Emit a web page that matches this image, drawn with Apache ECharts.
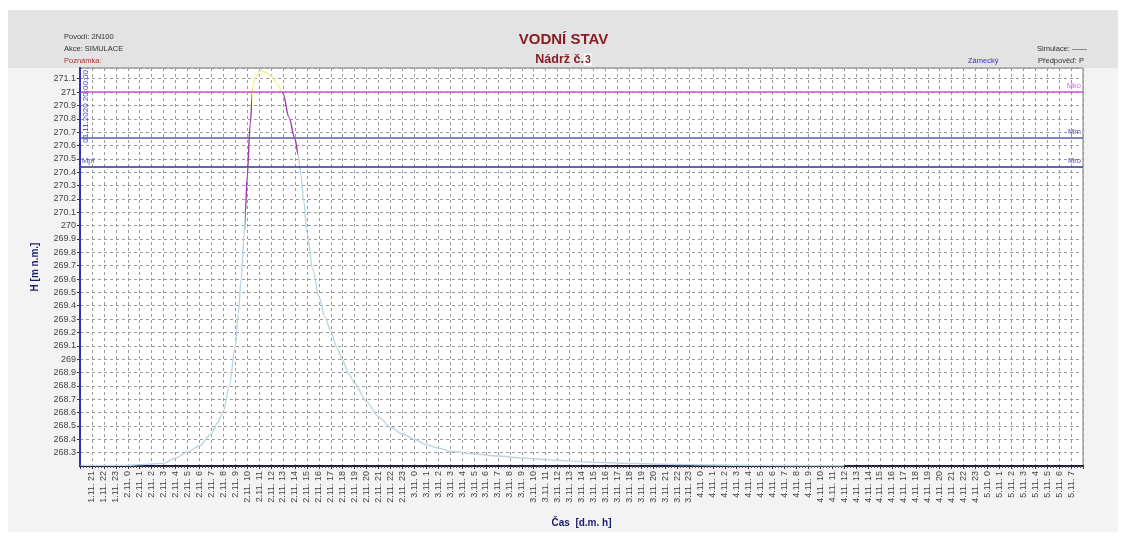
<!DOCTYPE html>
<html>
<head>
<meta charset="utf-8">
<script src="https://cdn.jsdelivr.net/npm/echarts@6/dist/echarts.min.js"></script>
<style>
html,body{margin:0;padding:0;background:#fff;}
#c{width:1127px;height:540px;}
</style>
</head>
<body>
<div id="c"></div>
<script>
// X tick labels (hourly, index 0 = 1.11. 21:00)
const xLabels = [
 '1.11. 21','1.11. 22','1.11. 23',
 '2.11. 0','2.11. 1','2.11. 2','2.11. 3','2.11. 4','2.11. 5','2.11. 6','2.11. 7','2.11. 8','2.11. 9','2.11. 10','2.11. 11',
 '2.11. 12','2.11. 13','2.11. 14','2.11. 15','2.11. 16','2.11. 17','2.11. 18','2.11. 19','2.11. 20','2.11. 21','2.11. 22','2.11. 23',
 '3.11. 0','3.11. 1','3.11. 2','3.11. 3','3.11. 4','3.11. 5','3.11. 6','3.11. 7','3.11. 8','3.11. 9','3.11. 10','3.11. 11',
 '3.11. 12','3.11. 13','3.11. 14','3.11. 15','3.11. 16','3.11. 17','3.11. 18','3.11. 19','3.11. 20','3.11. 21','3.11. 22','3.11. 23',
 '4.11. 0','4.11. 1','4.11. 2','4.11. 3','4.11. 4','4.11. 5','4.11. 6','4.11. 7','4.11. 8','4.11. 9','4.11. 10','4.11. 11',
 '4.11. 12','4.11. 13','4.11. 14','4.11. 15','4.11. 16','4.11. 17','4.11. 18','4.11. 19','4.11. 20','4.11. 21','4.11. 22','4.11. 23',
 '5.11. 0','5.11. 1','5.11. 2','5.11. 3','5.11. 4','5.11. 5','5.11. 6','5.11. 7'
];
// Time in hours from 1.11. 21:00
const times = [-1,0,1,2,3,4,5,6,7,8,9,10,10.5,11,11.5,12,12.25,12.5,12.75,12.85,13,13.25,13.5,13.75,14,14.25,14.5,15,15.5,16,16.5,17,17.28,17.5,17.75,18,18.5,19,19.5,20,20.5,21,21.5,22,23,24,25,26,27,28,29,30,32,34,36,38,40,42,45,48,52,56,60,63];
// Water level H [m n.m.]
const levels = [268.205,268.205,268.205,268.205,268.205,268.21,268.215,268.22,268.26,268.305,268.35,268.44,268.52,268.61,268.80,269.09,269.34,269.60,269.93,270.10,270.36,270.76,271.06,271.12,271.155,271.16,271.15,271.12,271.06,270.99,270.81,270.65,270.53,270.38,270.18,269.95,269.67,269.47,269.32,269.21,269.09,268.99,268.89,268.82,268.68,268.57,268.49,268.44,268.40,268.36,268.335,268.31,268.29,268.275,268.26,268.248,268.238,268.228,268.22,268.213,268.207,268.205,268.203,268.202];
// Reference levels
const levelMko = 271.0, levelMrn = 270.66, levelMro = 270.44, levelMs = 268.2;
const yMin = 268.2, yMax = 271.18;

const FONT = 'Liberation Sans, Arial, sans-serif';
const LB = '#bcd4e0', PURPLE = '#a03aa8', YELLOW = '#f2f08c';

const chart = echarts.init(document.getElementById('c'), null, {renderer:'canvas'});
const option = {
  animation: false,
  backgroundColor: '#ffffff',
  textStyle: {fontFamily: FONT},
  title: [
    {text: 'VODNÍ STAV', left: 'center', top: 27, textStyle: {fontSize: 15, fontWeight: 'bold', color: '#8b1c24', fontFamily: FONT}},
    {text: 'Nádrž č.{s|3}', left: 'center', top: 48, textStyle: {fontSize: 12.5, fontWeight: 'bold', color: '#8b1c24', fontFamily: FONT,
      rich: {s: {fontSize: 10.5, fontWeight: 'bold', color: '#8b1c24', backgroundColor: '#ffffff', fontFamily: FONT, padding: [1, 1, 0, 1]}}}}
  ],
  graphic: {elements: [
    {type:'rect', z:-100, shape:{x:8,y:10,width:1110,height:522}, style:{fill:'#f3f3f3'}},
    {type:'rect', z:-99, shape:{x:8,y:10,width:1110,height:58}, style:{fill:'#e3e3e3'}},
    {type:'text', left:64, top:32.5, z:50, style:{text:'Povodí: 2N100', fontSize:7.5, fontFamily:FONT, fill:'#333'}},
    {type:'text', left:64, top:44.5, z:50, style:{text:'Akce: SIMULACE', fontSize:7.5, fontFamily:FONT, fill:'#333'}},
    {type:'text', left:64, top:56.5, z:50, style:{text:'Poznámka:', fontSize:7.5, fontFamily:FONT, fill:'#b03030'}},
    {type:'text', left:1037, top:44.5, z:50, style:{text:'Simulace: ——', fontSize:7.5, fontFamily:FONT, fill:'#333'}},
    {type:'text', left:1038, top:56.5, z:50, style:{text:'Předpověď: P', fontSize:7.5, fontFamily:FONT, fill:'#333'}},
    {type:'text', left:968, top:56.5, z:50, style:{text:'Zámecký', fontSize:7.5, fontFamily:FONT, fill:'#3333bb'}}
  ]},
  grid: {left:80, right:44, top:68, bottom:74, show:true, backgroundColor:'#ffffff', borderColor:'#7a7a7a', borderWidth:1},
  xAxis: {
    type:'value', min:-1, max:83, interval:1,
    name:'Čas  [d.m. h]', nameLocation:'middle', nameGap:52,
    nameTextStyle:{fontWeight:'bold', fontSize:10, color:'#1a1a6a', fontFamily:FONT},
    axisLine:{show:true, onZero:false, lineStyle:{color:'#1c1c40', width:2}},
    axisTick:{show:true, length:3, lineStyle:{color:'#333'}},
    minorTick:{show:true, splitNumber:4, length:2, lineStyle:{color:'#555'}},
    axisLabel:{rotate:90, fontSize:9, color:'#444', margin:5, fontFamily:FONT,
      formatter: v => { const i = Math.round(v); return (i >= 0 && i < xLabels.length) ? xLabels[i] : ''; }},
    splitLine:{show:true, lineStyle:{color:'#9a9a9a', type:[3,3], width:1}}
  },
  yAxis: {
    type:'value', min:yMin, max:yMax, interval:0.1,
    name:'H [m n.m.]', nameLocation:'middle', nameGap:40, nameRotate:90,
    nameTextStyle:{fontWeight:'bold', fontSize:10, color:'#1a1a6a', fontFamily:FONT},
    axisLine:{show:true, onZero:false, lineStyle:{color:'#1c1c60', width:2}},
    axisTick:{show:true, length:3, lineStyle:{color:'#333'}},
    axisLabel:{fontSize:9, color:'#444', margin:4, fontFamily:FONT, showMinLabel:false, showMaxLabel:false,
      formatter: v => String(parseFloat(v.toFixed(1)))},
    splitLine:{show:true, lineStyle:{color:'#9a9a9a', type:[3,3], width:1}}
  },
  visualMap: {
    type:'piecewise', show:false, dimension:0, seriesIndex:0,
    pieces:[
      {lt:12.84, color:LB},
      {gte:12.84, lt:13.4, color:PURPLE},
      {gte:13.4, lt:15.9, color:YELLOW},
      {gte:15.9, lt:17.28, color:PURPLE},
      {gte:17.28, color:LB}
    ]
  },
  series: [{
    type:'line',
    data: times.map((t, i) => [t, levels[i]]),
    showSymbol:false, smooth:0.3, smoothMonotone:'x',
    lineStyle:{width:1.4},
    markLine:{
      silent:true, symbol:'none', animation:false,
      label:{fontSize:7.5, fontFamily:FONT, distance:2},
      data:[
        {yAxis:levelMko, lineStyle:{color:'#cc55cc', width:1.5, type:'solid'}, label:{formatter:'Mko', position:'insideEndTop', color:'#dd66dd'}},
        {yAxis:levelMrn, lineStyle:{color:'#5a5aa8', width:1.5, type:'solid'}, label:{formatter:'Mrn', position:'insideEndTop', color:'#4a4ab8'}},
        {yAxis:levelMro, lineStyle:{color:'#5a5aa8', width:1.5, type:'solid'}, label:{formatter:'Mro', position:'insideEndTop', color:'#4a4ab8'}},
        {yAxis:levelMro, lineStyle:{color:'#5a5aa8', width:1.5, type:'solid'}, label:{formatter:'Mpř', position:'insideStartTop', color:'#4a4ab8'}},
        {yAxis:levelMs, lineStyle:{color:'#5a5aa8', width:1, opacity:0}, label:{formatter:'Ms', position:'insideEndTop', color:'#5050cc'}},
        {xAxis:-1, lineStyle:{color:'#3a3ad0', width:1.5, type:'solid'}, label:{formatter:'01.11.2020 20:00:00', position:'insideEndBottom', color:'#3a3ad0', fontSize:8}}
      ]
    }
  }]
};
chart.setOption(option);
</script>
</body>
</html>
